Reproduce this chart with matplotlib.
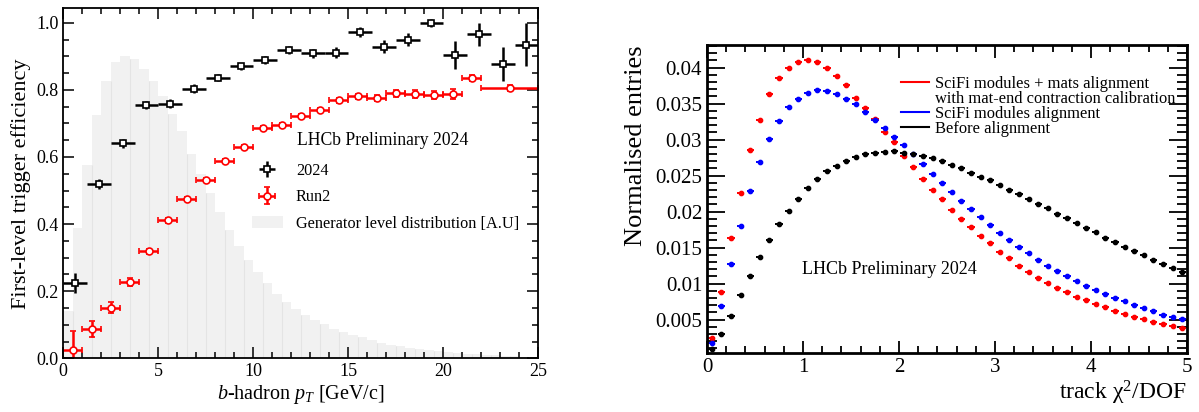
import numpy as np
import matplotlib.pyplot as plt
from matplotlib.lines import Line2D
from matplotlib.patches import Patch
from matplotlib.ticker import MultipleLocator, FuncFormatter

plt.rcParams['font.family'] = ['Liberation Serif', 'DejaVu Serif']
plt.rcParams['mathtext.fontset'] = 'custom'
plt.rcParams['mathtext.rm'] = 'Liberation Serif'
plt.rcParams['mathtext.it'] = 'Liberation Serif:italic'

# ---- left panel: trigger efficiency vs b-hadron pT ----
gen_edges = np.arange(0, 25.01, 0.5)
gen_counts = [0.140, 0.387, 0.576, 0.725, 0.827, 0.883, 0.901, 0.892, 0.863, 0.827,
              0.782, 0.728, 0.676, 0.609, 0.549, 0.492, 0.435, 0.382, 0.334, 0.293,
              0.257, 0.223, 0.193, 0.169, 0.146, 0.130, 0.113, 0.101, 0.088, 0.078,
              0.070, 0.062, 0.054, 0.047, 0.041, 0.036, 0.031, 0.027, 0.024, 0.021,
              0.018, 0.016, 0.014, 0.012, 0.010, 0.009, 0.007, 0.006, 0.005, 0.004]

eff24_edges = np.linspace(0, 25, 21)
eff24 = [0.224, 0.519, 0.641, 0.755, 0.759, 0.804, 0.836, 0.870, 0.890, 0.918,
         0.909, 0.911, 0.972, 0.929, 0.950, 0.999, 0.904, 0.965, 0.877, 0.934]
eff24_err = [0.030, 0.014, 0.014, 0.013, 0.013, 0.012, 0.011, 0.011, 0.012, 0.012,
             0.014, 0.016, 0.015, 0.020, 0.020, 0.012, 0.043, 0.034, 0.050, 0.064]

run2_edges = np.array([0, 1, 2, 3, 4, 5, 6, 7, 8, 9, 10, 11, 12, 13, 14, 15, 16,
                       17, 18, 19, 20, 21, 22, 25])
run2 = [0.024, 0.087, 0.151, 0.226, 0.319, 0.411, 0.475, 0.532, 0.588, 0.631,
        0.686, 0.696, 0.723, 0.740, 0.769, 0.781, 0.775, 0.790, 0.787, 0.786,
        0.788, 0.835, 0.805]
run2_err = [0.058, 0.025, 0.016, 0.012, 0.008, 0.007, 0.007, 0.006, 0.006, 0.006,
            0.006, 0.006, 0.006, 0.006, 0.008, 0.008, 0.009, 0.010, 0.012, 0.012,
            0.015, 0.010, 0.008]

# ---- right panel: track chi2/DOF ----
chi2_centres = np.arange(0.05, 5.0, 0.1)
chi2_mats = [0.00242, 0.00885, 0.0163, 0.02264, 0.02853, 0.03278, 0.0363, 0.03853, 0.0399, 0.04083,
             0.04111, 0.04075, 0.03996, 0.0388, 0.03764, 0.03579, 0.03444, 0.03283, 0.03107, 0.02972,
             0.02774, 0.02617, 0.02454, 0.02301, 0.02176, 0.0202, 0.01894, 0.0179, 0.01663, 0.01561,
             0.0144, 0.01353, 0.01246, 0.01167, 0.01083, 0.0101, 0.0094, 0.0088, 0.00819, 0.00774,
             0.00714, 0.00672, 0.00617, 0.00583, 0.00542, 0.00514, 0.00468, 0.00436, 0.00413, 0.00381]
chi2_modules = [0.0018, 0.0069, 0.0127, 0.01806, 0.02283, 0.02686, 0.0301, 0.03264, 0.0345, 0.03569,
                0.03653, 0.0369, 0.03672, 0.03635, 0.03561, 0.03496, 0.03389, 0.03278, 0.03167, 0.03042,
                0.02922, 0.02801, 0.02658, 0.02524, 0.02403, 0.02278, 0.02151, 0.02033, 0.01922, 0.01815,
                0.01708, 0.01607, 0.01514, 0.01422, 0.01329, 0.0125, 0.01176, 0.01103, 0.01038, 0.00968,
                0.00913, 0.00853, 0.00801, 0.00756, 0.007, 0.00658, 0.00617, 0.00569, 0.00533, 0.00506]
chi2_before = [0.00093, 0.00297, 0.00556, 0.00839, 0.01107, 0.01367, 0.01603, 0.01825, 0.02012, 0.02181,
               0.02329, 0.0245, 0.02565, 0.02635, 0.02704, 0.0276, 0.02806, 0.0282, 0.02833, 0.02843,
               0.0282, 0.02804, 0.02778, 0.02748, 0.02702, 0.02649, 0.02607, 0.02542, 0.02486, 0.02436,
               0.02371, 0.02306, 0.02246, 0.02181, 0.02112, 0.02047, 0.01973, 0.0191, 0.01843, 0.0178,
               0.01714, 0.01639, 0.01575, 0.01514, 0.01454, 0.01394, 0.01329, 0.01274, 0.01222, 0.01167]

fig = plt.figure(figsize=(11.99, 4.12), dpi=100)
ax1 = fig.add_axes([63.3/1199, (412-358.3)/412, 475/1199, 350/412])
ax2 = fig.add_axes([707/1199, (412-353.3)/412, 480/1199, 308.3/412])

# left
widths = np.diff(gen_edges)
ax1.bar(gen_edges[:-1], gen_counts, width=widths, align='edge', color='#f1f1f1', lw=0)
gc = np.array(gen_counts)
half = gen_edges[1:-1:2]
hmin = np.minimum(gc[0:-1:2], gc[1::2])
ax1.vlines(half, 0, hmin, color='#e4e4e4', lw=0.8)

c24 = 0.5*(eff24_edges[1:] + eff24_edges[:-1])
e24 = ax1.errorbar(c24, eff24, xerr=np.diff(eff24_edges)/2, yerr=eff24_err, fmt='s',
                   color='black', mfc='white', mec='black', ms=5, mew=1.2,
                   elinewidth=1.8, capsize=0)
cr2 = 0.5*(run2_edges[1:] + run2_edges[:-1])
er2 = ax1.errorbar(cr2, run2, xerr=np.diff(run2_edges)/2, yerr=run2_err, fmt='o',
                   color='red', mfc='white', mec='red', ms=5, mew=1.2,
                   elinewidth=1.8, capsize=2, capthick=1.5)

ax1.set_xlim(0, 25)
ax1.set_ylim(0, 1.043)
ax1.xaxis.set_major_locator(MultipleLocator(5))
ax1.xaxis.set_minor_locator(MultipleLocator(1))
ax1.yaxis.set_major_locator(MultipleLocator(0.2))
ax1.yaxis.set_minor_locator(MultipleLocator(0.05))
ax1.yaxis.set_major_formatter(FuncFormatter(lambda v, p: '%.1f' % v))
ax1.tick_params(which='both', direction='in', top=True, right=True, labelsize=13, width=1.1)
ax1.tick_params(which='major', length=8)
ax1.tick_params(which='minor', length=4)
for s in ax1.spines.values():
    s.set_linewidth(1.3)
ax1.set_xlabel('$b$-hadron $p_T$ [GeV/c]', fontsize=14.5, labelpad=2)
ax1.set_ylabel('First-level trigger efficiency', fontsize=16, labelpad=4)
ax1.text(12.28, 0.650, 'LHCb Preliminary 2024', fontsize=12.7, va='center', ha='left')
gen_patch = Patch(facecolor='#f1f1f1', edgecolor='none')
ax1.legend([e24, er2, gen_patch], ['2024', 'Run2', 'Generator level distribution [A.U]'],
           loc='upper left', bbox_to_anchor=(0.397, 0.559), frameon=False, fontsize=11.7,
           handlelength=1.9, handletextpad=0.8, labelspacing=0.65, borderpad=0,
           borderaxespad=0)

# right
for vals, col in [(chi2_mats, 'red'), (chi2_modules, 'blue'), (chi2_before, 'black')]:
    ax2.errorbar(chi2_centres, vals, xerr=0.038, fmt='o', color=col, ms=3.1,
                 elinewidth=1.4, capsize=0)
ax2.set_xlim(0, 5)
ax2.set_ylim(0.00033, 0.04315)
ax2.xaxis.set_major_locator(MultipleLocator(1))
ax2.xaxis.set_minor_locator(MultipleLocator(0.2))
ax2.yaxis.set_major_locator(MultipleLocator(0.005))
ax2.yaxis.set_minor_locator(MultipleLocator(0.001))
ax2.yaxis.set_major_formatter(FuncFormatter(lambda v, p: '%g' % round(v, 4)))
ax2.xaxis.set_major_formatter(FuncFormatter(lambda v, p: '%g' % v))
ax2.tick_params(which='both', direction='in', top=True, right=True, labelsize=15, width=1.3)
ax2.tick_params(axis='x', which='major', length=9)
ax2.tick_params(axis='x', which='minor', length=5)
ax2.tick_params(axis='y', which='major', length=13)
ax2.tick_params(axis='y', which='minor', length=7)
for s in ax2.spines.values():
    s.set_linewidth(2)
ax2.set_xlabel(r'track $\mathregular{\chi^2}$/DOF', fontsize=17, loc='right', labelpad=1)
ax2.set_ylabel('Normalised entries', fontsize=19, loc='top', labelpad=6)
ax2.text(0.986, 0.0119, 'LHCb Preliminary 2024', fontsize=13, va='center', ha='left')
hnd = [Line2D([], [], color='red', lw=1.5), Line2D([], [], color='none'),
       Line2D([], [], color='blue', lw=1.5), Line2D([], [], color='black', lw=1.5)]
lab = ['SciFi modules + mats alignment', 'with mat-end contraction calibration',
       'SciFi modules alignment', 'Before alignment']
ax2.legend(hnd, lab, loc='upper left', bbox_to_anchor=(0.405, 0.90), frameon=False,
           fontsize=11.9, handlelength=1.7, handletextpad=0.35, labelspacing=-0.06,
           borderpad=0, borderaxespad=0)

fig.savefig('out.png', dpi=100)
